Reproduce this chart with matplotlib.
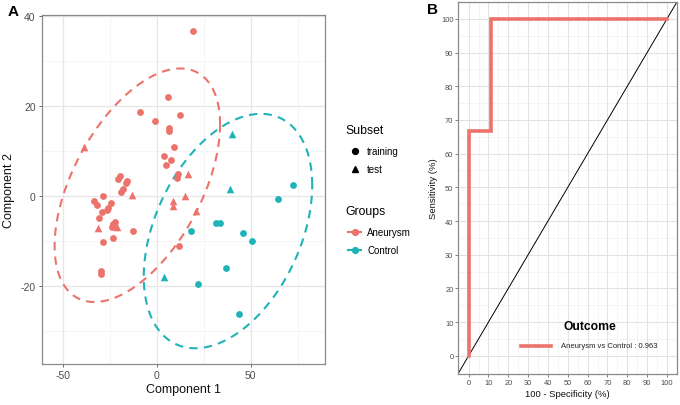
import numpy as np
import matplotlib
matplotlib.use("Agg")
import matplotlib.pyplot as plt
from matplotlib.lines import Line2D

plt.rcParams['font.family'] = ['Liberation Sans', 'DejaVu Sans']
plt.rcParams['axes.unicode_minus'] = False

RED = "#EC736B"
CYAN = "#1FB3B8"

# ---------------- Panel A data ----------------
aneu_train_x = [19.1, 5.9, -8.9, 12.4, -0.9, 6.4, 6.7, 9.2, 3.7, 4.8, 7.6, 11.2, 10.6,
                -19.5, -20.4, -16.0, -16.4, -18.1, -19.0, -28.7, -33.2, -31.6, -24.5,
                -25.7, -26.6, -29.3, -30.5, -22.3, -23.1, -23.6, -12.8, -23.1, -28.7,
                -29.8, -29.4, 11.9]
aneu_train_y = [36.7, 22.1, 18.7, 18.1, 16.7, 15.1, 14.4, 11.0, 9.0, 6.8, 8.1, 5.0, 4.0,
                4.4, 3.7, 3.3, 3.0, 1.5, 1.0, 0.0, -1.2, -2.1, -1.6,
                -2.6, -3.2, -3.6, -5.0, -5.7, -6.3, -6.9, -7.9, -9.3, -10.2,
                -16.8, -17.3, -11.1]
aneu_test_x = [-13.0, 16.8, 8.9, 8.5, 15.1, -31.0, -21.3, -38.5, 20.9]
aneu_test_y = [0.2, 5.0, -1.0, -2.2, -0.1, -7.2, -7.0, 11.0, -3.3]
ctrl_train_x = [72.3, 64.5, 31.4, 33.9, 18.1, 46.1, 50.7, 36.7, 22.0, 43.6]
ctrl_train_y = [2.5, -0.7, -6.0, -5.9, -7.7, -8.2, -10.1, -16.1, -19.6, -26.2]
ctrl_test_x = [40.2, 38.8, 4.1]
ctrl_test_y = [13.8, 1.6, -18.1]

# ellipse parameters: centre x, centre y, sd x, sd y, correlation
ell_aneu = [-10.3, 2.4, 44.0, 26.0, 0.52]
ell_ctrl = [37.9, -7.8, 44.8, 26.1, 0.39]

# ---------------- Panel B data ----------------
roc_fpr = [0, 0, 11.11, 11.11, 100]
roc_tpr = [0, 66.67, 66.67, 100, 100]
roc_label = "Aneurysm vs Control : 0.963"

W, H = 680, 406
fig = plt.figure(figsize=(W / 100, H / 100), dpi=100)

def fx(px):
    return px / W

def fy(py):
    return 1 - py / H

# ---------- Panel A ----------
axA = fig.add_axes([fx(42), fy(365), (325 - 42) / W, (365 - 16) / H])
axA.set_xlim(-61, 89.5)
axA.set_ylim(-37.4, 40.3)
for v in [-25, 25, 75]:
    axA.axvline(v, color="#F2F2F2", lw=0.5, zorder=0)
for v in [-30, -10, 10, 30]:
    axA.axhline(v, color="#F2F2F2", lw=0.5, zorder=0)
for v in [-50, 0, 50]:
    axA.axvline(v, color="#E6E6E6", lw=0.9, zorder=0)
for v in [-20, 0, 20, 40]:
    axA.axhline(v, color="#E6E6E6", lw=0.9, zorder=0)

def draw_ellipse(ax, p, color):
    cx, cy, sx, sy, r = p
    t = np.linspace(0, 2 * np.pi, 300)
    x = cx + sx * np.cos(t)
    y = cy + sy * (r * np.cos(t) + np.sqrt(1 - r * r) * np.sin(t))
    ax.plot(x, y, color=color, lw=1.5, ls=(0, (4, 3)), zorder=2)

draw_ellipse(axA, ell_aneu, RED)
draw_ellipse(axA, ell_ctrl, CYAN)

axA.scatter(aneu_train_x, aneu_train_y, s=24, marker="o", color=RED, lw=0, zorder=3)
axA.scatter(aneu_test_x, aneu_test_y, s=30, marker="^", color=RED, lw=0, zorder=3)
axA.scatter(ctrl_train_x, ctrl_train_y, s=24, marker="o", color=CYAN, lw=0, zorder=3)
axA.scatter(ctrl_test_x, ctrl_test_y, s=30, marker="^", color=CYAN, lw=0, zorder=3)

axA.set_xticks([-50, 0, 50])
axA.set_yticks([-20, 0, 20, 40])
axA.tick_params(labelsize=7.5, colors="#4D4D4D", length=2.5, width=0.6, pad=2)
for s in axA.spines.values():
    s.set_color("#8A8A8A")
    s.set_linewidth(0.9)
axA.set_xlabel("Component 1", fontsize=9, labelpad=2, color="#111111")
axA.set_ylabel("Component 2", fontsize=9, labelpad=4, color="#111111")

fig.text(fx(8), fy(12), "A", fontsize=11, fontweight="bold", va="center", ha="left")

# legend for panel A (manual, in figure coords)
fig.text(fx(345), fy(131), "Subset", fontsize=8.8, va="center", ha="left")
fig.add_artist(Line2D([fx(355)], [fy(152)], marker="o", ms=4.2, color="black", lw=0))
fig.text(fx(367), fy(152), "training", fontsize=7, va="center", ha="left")
fig.add_artist(Line2D([fx(355)], [fy(170)], marker="^", ms=4.6, color="black", lw=0))
fig.text(fx(367), fy(170), "test", fontsize=7, va="center", ha="left")
fig.text(fx(345), fy(212), "Groups", fontsize=8.8, va="center", ha="left")
for yy, col, lab in [(233, RED, "Aneurysm"), (251, CYAN, "Control")]:
    fig.add_artist(Line2D([fx(348), fx(361)], [fy(yy), fy(yy)], color=col, lw=1.5))
    fig.add_artist(Line2D([fx(355)], [fy(yy)], marker="o", ms=4.2, color=col, lw=0))
    fig.text(fx(367), fy(yy), lab, fontsize=7, va="center", ha="left")

# ---------- Panel B ----------
axB = fig.add_axes([fx(458.3), fy(375), (677.3 - 458.3) / W, (375 - 3) / H])
axB.set_xlim(-5.2, 105.2)
axB.set_ylim(-5.4, 105)
for v in range(5, 100, 10):
    axB.axvline(v, color="#F0F0F0", lw=0.5, zorder=0)
    axB.axhline(v, color="#F0F0F0", lw=0.5, zorder=0)
for v in range(0, 101, 10):
    axB.axvline(v, color="#E3E3E3", lw=0.8, zorder=0)
    axB.axhline(v, color="#E3E3E3", lw=0.8, zorder=0)
axB.plot([-10, 110], [-10, 110], color="black", lw=0.7, zorder=2)
axB.plot(roc_fpr, roc_tpr, color=RED, lw=2.6, zorder=3, solid_joinstyle="miter")
axB.set_xticks(range(0, 101, 10))
axB.set_yticks(range(0, 101, 10))
axB.tick_params(labelsize=5.4, colors="#4D4D4D", length=2, width=0.5, pad=1.5)
for s in axB.spines.values():
    s.set_color("#8A8A8A")
    s.set_linewidth(0.9)
axB.set_xlabel("100 - Specificity (%)", fontsize=6.8, labelpad=2, color="#111111")
fig.text(fx(433), fy(189), "Sensitivity (%)", fontsize=6.8, rotation=90,
         va="center", ha="center", color="#111111")
fig.text(fx(427), fy(10), "B", fontsize=11, fontweight="bold", va="center", ha="left")

# ROC legend
fig.text(fx(590), fy(327), "Outcome", fontsize=8.7, fontweight="bold", va="center", ha="center")
fig.add_artist(Line2D([fx(521), fx(551)], [fy(347), fy(347)], color=RED, lw=2.6))
fig.text(fx(561), fy(347), roc_label, fontsize=5.5, va="center", ha="left", color="#222222")

fig.savefig("out.png", dpi=100)
